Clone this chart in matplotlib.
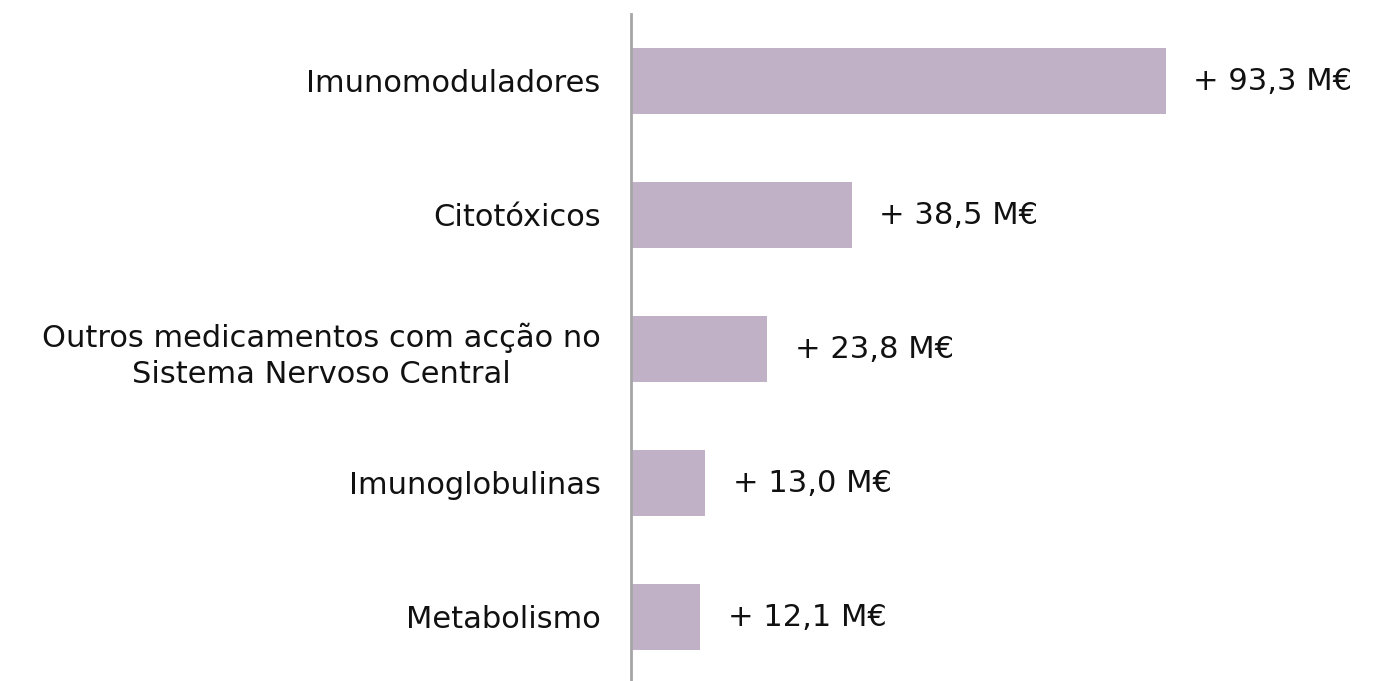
import matplotlib.pyplot as plt

categories = ['Imunomoduladores', 'Citotóxicos',
              'Outros medicamentos com acção no\nSistema Nervoso Central',
              'Imunoglobulinas', 'Metabolismo']
values = [93.3, 38.5, 23.8, 13.0, 12.1]
labels = ['+ 93,3 M€', '+ 38,5 M€', '+ 23,8 M€', '+ 13,0 M€', '+ 12,1 M€']

plt.rcParams['font.family'] = ['DejaVu Sans']

fig = plt.figure(figsize=(13.83, 6.81), dpi=100)
ax = fig.add_axes([631 / 1383, -3 / 681, 752 / 1383, 670 / 681])

pos = list(range(len(categories)))
ax.barh(pos, values, height=0.49, color='#C1B1C6')
ax.set_ylim(len(categories) - 0.5, -0.5)
ax.set_xlim(0, 752 / 5.73)

for p, v, t in zip(pos, values, labels):
    ax.text(v + 4.8, p, t, va='center', ha='left', fontsize=22, color='#111111')

ax.set_yticks(pos)
ax.set_yticklabels(categories, fontsize=22, color='#111111', ha='right',
                   multialignment='center', linespacing=1.33)
ax.tick_params(axis='y', length=0, pad=22)
ax.set_xticks([])

for s in ['top', 'right', 'bottom']:
    ax.spines[s].set_visible(False)
ax.spines['left'].set_color('#A6A6A6')
ax.spines['left'].set_linewidth(2)

fig.savefig('out.png', dpi=100)
